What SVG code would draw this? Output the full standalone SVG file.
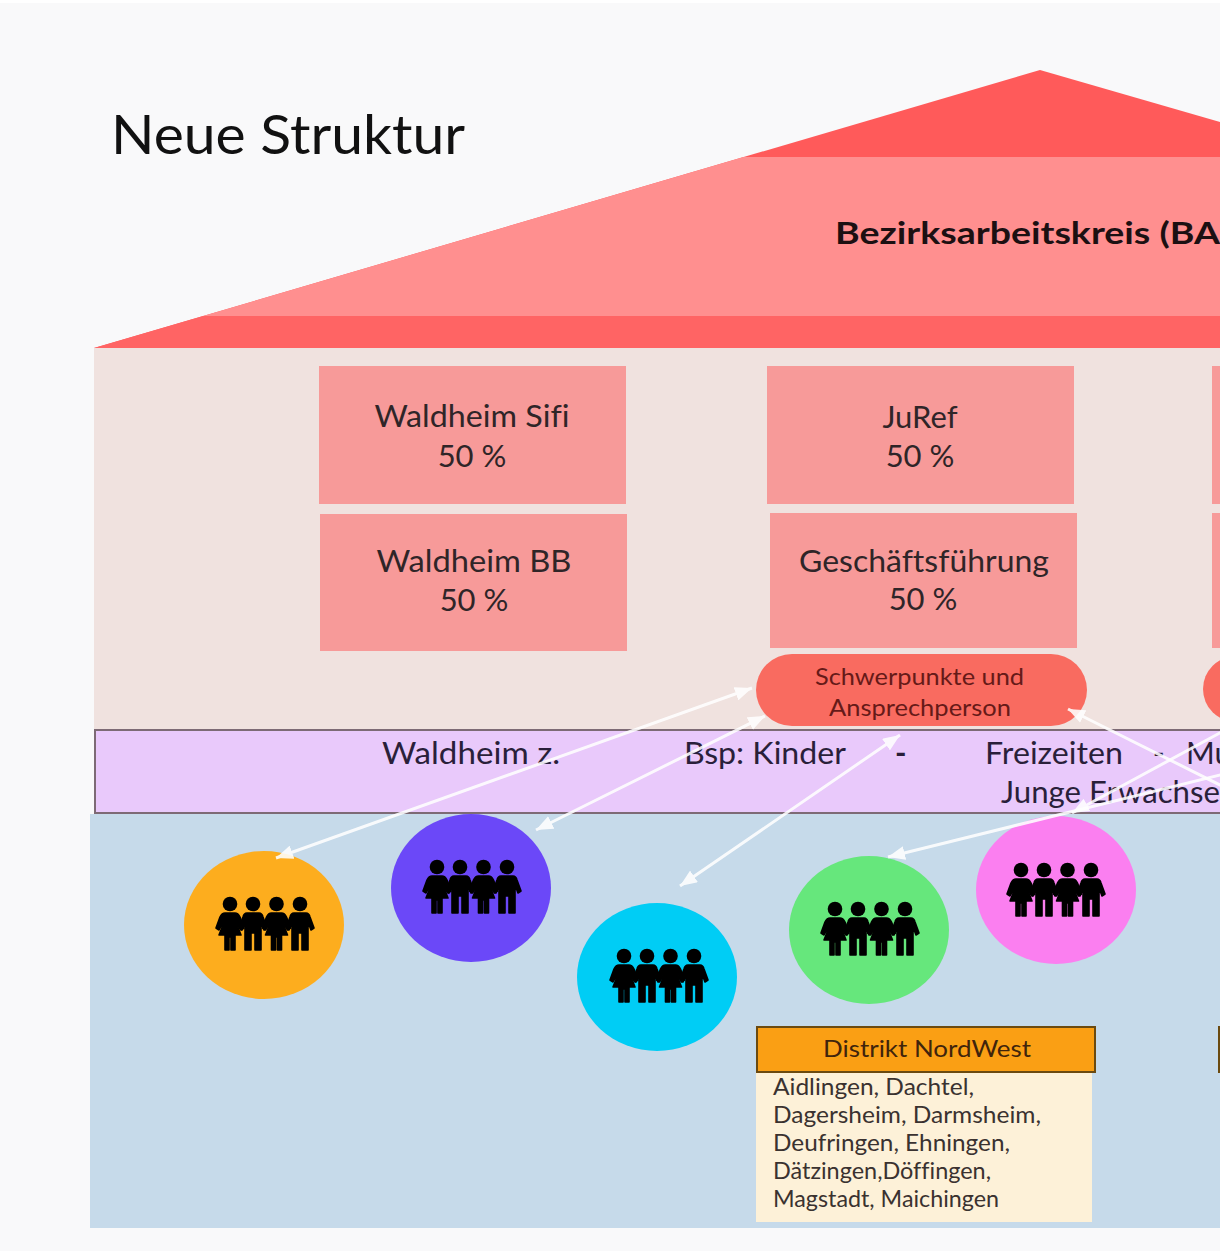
<svg xmlns="http://www.w3.org/2000/svg" width="1220" height="1251" viewBox="0 0 1220 1251">
<style>
text{font-family:"Lato","Open Sans","Liberation Sans",sans-serif;fill:#2f2528;font-variant-ligatures:none}
.box{fill:#f79a99}
.big{font-size:31px;text-anchor:middle}
.band{font-size:31px;fill:#2a1f3a}
.pill{fill:#f96b60}
.pt{font-size:24px;text-anchor:middle;fill:#661a18}
.list{font-size:23px;fill:#3a3230}
.conn{stroke:#fff;stroke-width:3;fill:none;opacity:.88;marker-start:url(#h);marker-end:url(#h)}
.fig{stroke:#000;stroke-width:1.600;stroke-linejoin:round}
</style>
<defs>
<marker id="h" markerUnits="userSpaceOnUse" markerWidth="18" markerHeight="14" refX="17" refY="7" orient="auto-start-reverse" viewBox="0 0 18 14"><path d="M0,0 L17,7 L0,14Z" fill="#fff"/></marker>
<path id="w" class="fig" d="M-5,16H5Q8,16 10,20L14,31L11,33L7,25V28L11,38H5V53H1V40H-1V53H-5V38H-11L-7,28V25L-11,33L-14,31L-10,20Q-8,16 -5,16Z"/>
<path id="m" class="fig" d="M-6,16H6Q9,16 10,20L14,31L11,33L8,25V53H2V36H-2V53H-8V25L-11,33L-14,31L-10,20Q-9,16 -6,16Z"/>
<g id="family" fill="#000">
<circle cx="14" cy="7" r="7.300"/><circle cx="37" cy="7" r="7.300"/><circle cx="60.500" cy="7" r="7.300"/><circle cx="84" cy="7" r="7.300"/>
<use href="#w" x="14"/><use href="#m" x="37"/><use href="#w" x="60.500"/><use href="#m" x="84"/>
</g>
<clipPath id="roofClip"><path d="M94,348L1040,70L1220,122V348Z"/></clipPath>
</defs>
<rect width="1220" height="1251" fill="#f9f9fa"/>
<rect width="1220" height="3" fill="#fff"/>
<g id="house">
<rect x="94" y="348" width="1126" height="382" fill="#f0e2df"/>
<path d="M94,348L1040,70L1220,122V348Z" fill="#ff5a5a"/>
<g clip-path="url(#roofClip)"><rect x="90" y="157" width="1130" height="159" fill="#ff8f8f"/><rect x="90" y="316" width="1130" height="32" fill="#ff6464"/></g>
</g>
<rect x="90" y="814" width="1130" height="414" fill="#c6daea"/>
<g id="title"><text x="111" y="154" textLength="354" lengthAdjust="spacingAndGlyphs" style="font-size:54px;fill:#111">Neue Struktur</text></g>
<g id="bak"><text x="835" y="244" textLength="385" lengthAdjust="spacingAndGlyphs" style="font-size:30px;font-weight:700;fill:#1c1012">Bezirksarbeitskreis (BA</text></g>
<g id="waldheim-sifi"><rect class="box" x="319" y="366" width="307" height="138"/><text class="big" x="472" y="427" textLength="195" lengthAdjust="spacingAndGlyphs">Waldheim Sifi</text><text class="big" x="472" y="467">50 %</text></g>
<g id="waldheim-bb"><rect class="box" x="320" y="514" width="307" height="137"/><text class="big" x="474" y="572" textLength="195" lengthAdjust="spacingAndGlyphs">Waldheim BB</text><text class="big" x="474" y="611">50 %</text></g>
<g id="juref"><rect class="box" x="767" y="366" width="307" height="138"/><text class="big" x="920" y="428">JuRef</text><text class="big" x="920" y="467">50 %</text></g>
<g id="geschaeftsfuehrung"><rect class="box" x="770" y="513" width="307" height="135"/><text class="big" x="924" y="572" textLength="250" lengthAdjust="spacingAndGlyphs">Geschäftsführung</text><text class="big" x="923" y="610">50 %</text></g>
<g id="box-right-1"><rect class="box" x="1212" y="366" width="30" height="138"/></g>
<g id="box-right-2"><rect class="box" x="1212" y="513" width="30" height="135"/></g>
<g id="schwerpunkte"><rect class="pill" x="756" y="654" width="331" height="72" rx="36"/><text class="pt" x="919.500" y="685" textLength="209" lengthAdjust="spacingAndGlyphs">Schwerpunkte und</text><text class="pt" x="920" y="716" textLength="182" lengthAdjust="spacingAndGlyphs">Ansprechperson</text></g>
<g id="pill-right"><rect class="pill" x="1203" y="656" width="120" height="66" rx="33"/></g>
<g id="band">
<rect x="95" y="730" width="1140" height="83" fill="#e9c9fb" stroke="#7d6a75" stroke-width="2"/>
<text class="band" x="382" y="764" textLength="178" lengthAdjust="spacingAndGlyphs">Waldheim z.</text>
<text class="band" x="684" y="764" textLength="162" lengthAdjust="spacingAndGlyphs">Bsp: Kinder</text>
<text class="band" x="895" y="764" style="font-weight:700">-</text>
<text class="band" x="985" y="764" textLength="138" lengthAdjust="spacingAndGlyphs">Freizeiten</text>
<text class="band" x="1153" y="764" style="font-weight:700">-</text>
<text class="band" x="1186" y="764">Mu</text>
<text class="band" x="1001" y="803" textLength="219" lengthAdjust="spacingAndGlyphs">Junge Erwachse</text>
</g>
<g id="group-orange"><ellipse cx="264" cy="925" rx="80" ry="74" fill="#fdad1e"/><use href="#family" x="216" y="897"/></g>
<g id="group-purple"><ellipse cx="471" cy="888" rx="80" ry="74" fill="#6b48f8"/><use href="#family" x="423" y="860"/></g>
<g id="group-cyan"><ellipse cx="657" cy="977" rx="80" ry="74" fill="#00cdf5"/><use href="#family" x="610" y="949"/></g>
<g id="group-green"><ellipse cx="869" cy="930" rx="80" ry="74" fill="#66e77c"/><use href="#family" x="821" y="902"/></g>
<g id="group-pink"><ellipse cx="1056" cy="890" rx="80" ry="74" fill="#fb7ff0"/><use href="#family" x="1007" y="863"/></g>
<g id="distrikt-nordwest">
<rect x="756" y="1073" width="336" height="149" fill="#fdf1d8"/>
<rect x="757" y="1027" width="338" height="45" fill="#fa9f14" stroke="#6b4a10" stroke-width="2"/>
<text x="927" y="1057" textLength="208" lengthAdjust="spacingAndGlyphs" style="font-size:23px;text-anchor:middle;fill:#40240c">Distrikt NordWest</text>
<text class="list" x="773" y="1095" textLength="201" lengthAdjust="spacingAndGlyphs">Aidlingen, Dachtel,</text>
<text class="list" x="773" y="1123" textLength="268" lengthAdjust="spacingAndGlyphs">Dagersheim, Darmsheim,</text>
<text class="list" x="773" y="1151" textLength="237" lengthAdjust="spacingAndGlyphs">Deufringen, Ehningen,</text>
<text class="list" x="773" y="1179" textLength="218" lengthAdjust="spacingAndGlyphs">Dätzingen,Döffingen,</text>
<text class="list" x="773" y="1207" textLength="226" lengthAdjust="spacingAndGlyphs">Magstadt, Maichingen</text>
</g>
<g id="distrikt-right"><rect x="1219" y="1027" width="10" height="45" fill="#fa9f14" stroke="#6b4a10" stroke-width="2"/></g>
<g id="connectors">
<line class="conn" x1="752" y1="688" x2="276" y2="858"/>
<line class="conn" x1="765" y1="716" x2="536" y2="830"/>
<line class="conn" x1="900" y1="735" x2="680" y2="886"/>
<line class="conn" x1="1068" y1="709" x2="1240" y2="795"/>
<line class="conn" x1="888" y1="857" x2="1240" y2="770"/>
<line class="conn" x1="1072" y1="813" x2="1240" y2="722"/>
</g>
</svg>
